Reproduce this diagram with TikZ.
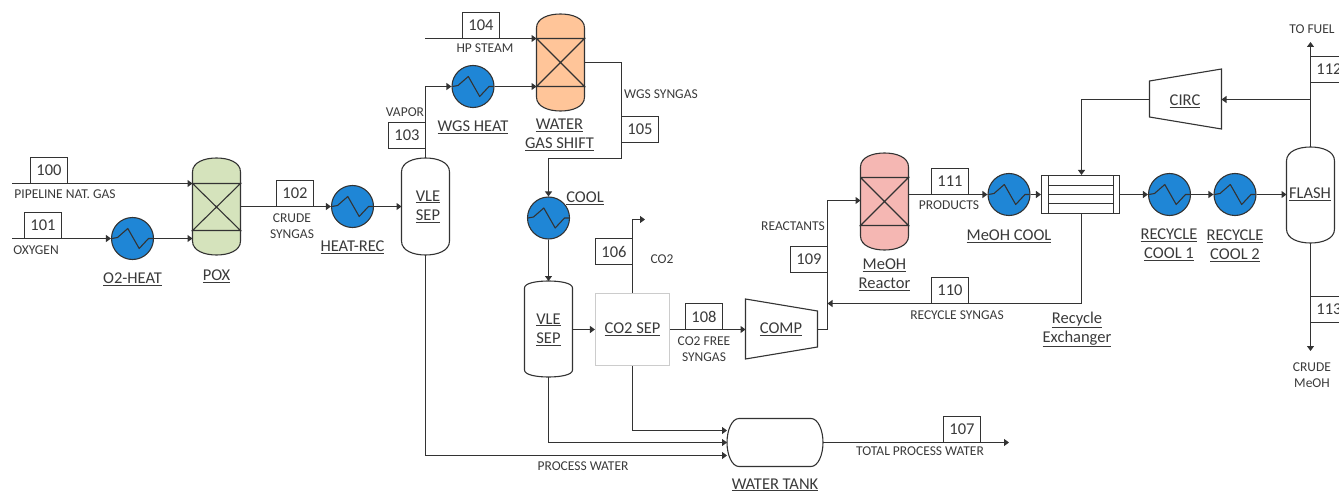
\documentclass[tikz,border=0pt]{standalone}
\usepackage{fontspec}
\setmainfont{Carlito}
\usetikzlibrary{arrows.meta,calc}
\definecolor{ln}{HTML}{333333}
\definecolor{tx}{HTML}{3A3A3A}
\definecolor{hxblue}{HTML}{1F86D6}
\definecolor{poxf}{HTML}{D5E3BC}
\definecolor{wgsf}{HTML}{FFC599}
\definecolor{meohf}{HTML}{F5B7B3}
\tikzset{
 pipe/.style={draw=ln,line width=1.1pt},
 stream/.style={pipe,-{Triangle[length=5pt,width=7pt]}},
 numbox/.style={draw=ln,line width=1.1pt,fill=white,minimum width=37pt,minimum height=26pt,inner sep=0pt,text=tx,font=\fontsize{16.5}{19}\selectfont},
 small/.style={inner sep=0pt,text=tx,align=center,font=\fontsize{13.5}{16}\selectfont},
 unit/.style={inner sep=0pt,text=tx,align=center,font=\fontsize{16.5}{19}\selectfont},
 ghost/.style={inner sep=0pt,outer sep=0pt},
 hxc/.style={circle,draw=ln,line width=1.1pt,fill=hxblue,minimum size=42pt,inner sep=0pt},
 tool/.style={draw=ln,line width=1.1pt}
}
% name, cx, top, bottom, head height, fill
\newcommand{\vessel}[6]{%
 \path[tool,fill=#6] (#2-24,#3+#5) .. controls (#2-24,#3+0.3*#5) and (#2-12,#3) .. (#2,#3)
   .. controls (#2+12,#3) and (#2+24,#3+0.3*#5) .. (#2+24,#3+#5)
   -- (#2+24,#4-#5) .. controls (#2+24,#4-0.3*#5) and (#2+12,#4) .. (#2,#4)
   .. controls (#2-12,#4) and (#2-24,#4-0.3*#5) .. (#2-24,#4-#5) -- cycle;
 \node[ghost,minimum width=48pt,minimum height=#4pt-#3pt] (#1) at (#2,{(#3+#4)/2}) {};}
% name, cx, top, bottom, fill, y1, y2
\newcommand{\reactor}[7]{%
 \vessel{#1}{#2}{#3}{#4}{14}{#5}
 \draw[tool] (#2-24,#6) -- (#2+24,#6) -- (#2-24,#7) -- (#2+24,#7) -- (#2-24,#6);}
% name, cx, cy
\newcommand{\hx}[3]{%
 \node[hxc] (#1) at (#2,#3) {};
 \draw[tool,line join=round] (#2-20.5,#3) -- (#2-15,#3-1) -- (#2-4.7,#3-10) -- (#2+6.7,#3+10) -- (#2+16,#3) -- (#2+20.5,#3);}
\begin{document}
\begin{tikzpicture}[x=1pt,y=-1pt]
\useasboundingbox (0,0) rectangle (1339,492);
\clip (0,0) rectangle (1339,492);
% equipment
\reactor{pox}{216.5}{158}{255}{poxf}{183.5}{230.5}
\reactor{wgs}{560.5}{14}{111}{wgsf}{38.5}{86.5}
\reactor{meoh}{884.5}{153}{250}{meohf}{177.5}{225.5}
\vessel{vle1}{425.5}{158}{255}{14}{white}
\vessel{vle2}{548.5}{281}{377}{7}{white}
\vessel{flash}{1310.5}{147}{243}{14}{white}
\hx{hxo}{132.5}{238.5}
\hx{hxrec}{352.5}{206.5}
\hx{hxwgs}{473}{86.5}
\hx{hxcool}{548.5}{218}
\hx{hxmeoh}{1009}{194.5}
\hx{hxr}{1169.5}{194.5}
\hx{hxs}{1235}{194.5}
\node[draw=black!20,line width=1.1pt,minimum width=74pt,minimum height=72pt,inner sep=0pt,text=tx,font=\fontsize{16.5}{19}\selectfont] (co2) at (632.5,329.5) {\underline{CO2 SEP}};
% compressors
\draw[tool] (745.5,299) -- (817.5,311) -- (817.5,347) -- (745.5,359) -- cycle;
\node[ghost,minimum width=72pt,minimum height=60pt] (comp) at (781.5,329.5) {};
\draw[tool] (1149.5,81) -- (1221.5,69) -- (1221.5,129) -- (1149.5,117) -- cycle;
\node[ghost,minimum width=72pt,minimum height=60pt] (circ) at (1185.5,99.5) {};
% water tank
\path[tool] (739,418.5) -- (811,418.5) .. controls (818,418.5) and (823,430) .. (823,442.5)
  .. controls (823,455) and (818,466.5) .. (811,466.5) -- (739,466.5)
  .. controls (732,466.5) and (727,455) .. (727,442.5) .. controls (727,430) and (732,418.5) .. (739,418.5) -- cycle;
\node[ghost,minimum width=96pt,minimum height=48pt] (tank) at (775,442.5) {};
% exchanger
\node[draw=ln,line width=1.1pt,minimum width=78pt,minimum height=38pt,inner sep=0pt] (exch) at (1080.5,194.5) {};
\draw[tool] (1048.5,175.5) -- (1048.5,213.5) (1113.5,175.5) -- (1113.5,213.5);
\draw[tool] (1048.5,185.5) -- (1113.5,185.5) (1048.5,194.5) -- (1113.5,194.5) (1048.5,203.5) -- (1113.5,203.5);
% free ends
\coordinate (s100) at (12,183.5);
\coordinate (s101) at (12,238.5);
\coordinate (s104) at (425,38.5);
\coordinate (j1) at (425.5,86.5);
\coordinate (co2end) at (645,219.5);
\coordinate (e107) at (1009,442.5);
\coordinate (fuel) at (1310.5,42);
\coordinate (crude) at (1310.5,351);
\coordinate (tee) at (1310.5,99.5);
\coordinate (mix) at (827.5,303.5);
\coordinate (rbend) at (1081.5,303.5);
\coordinate (cbend) at (1081.5,99.5);
% connectors
\draw[stream] (s100) -- (pox.west |- s100);
\draw[stream] (s101) -- (hxo.west);
\draw[stream] (hxo.east) -- (pox.west |- hxo.east);
\draw[stream] (pox.east) -- (hxrec.west);
\draw[stream] (hxrec.east) -- (vle1.west |- hxrec.east);
\draw[pipe] (vle1.north) -- (j1);
\draw[stream] (j1) -- (hxwgs.west);
\draw[stream] (hxwgs.east) -- (wgs.west |- hxwgs.east);
\draw[stream] (s104) -- (wgs.west |- s104);
\draw[stream] (wgs.east) -- (621.5,62.5) -- (621.5,158.5) -- (hxcool.north |- 0,158.5) -- (hxcool.north);
\draw[stream] (hxcool.south) -- (vle2.north);
\draw[stream] (vle2.east |- co2.west) -- (co2.west);
\draw[stream] (co2.north) -- (co2.north |- co2end) -- (co2end);
\draw[stream] (co2.east) -- (comp.west);
\draw[stream] (comp.east) -- (827.5,329.5) -- (827.5,200.5) -- (meoh.west |- 0,200.5);
\draw[stream] (rbend) -- (mix);
\draw[pipe] (exch.south -| rbend) -- (rbend);
\draw[stream] (meoh.east |- 0,194.5) -- (hxmeoh.west);
\draw[stream] (hxmeoh.east) -- (exch.west);
\draw[stream] (exch.east) -- (hxr.west);
\draw[stream] (hxr.east) -- (hxs.west);
\draw[stream] (hxs.east) -- (flash.west |- hxs.east);
\draw[stream] (flash.north) -- (fuel);
\draw[stream] (flash.south) -- (crude);
\draw[stream] (tee) -- (circ.east);
\draw[pipe] (circ.west) -- (cbend);
\draw[stream] (cbend) -- (exch.north -| cbend);
\draw[stream] (co2.south) -- (co2.south |- 0,430.5) -- (tank.west |- 0,430.5);
\draw[stream] (vle2.south) -- (vle2.south |- tank.west) -- (tank.west);
\draw[stream] (vle1.south) -- (vle1.south |- 0,455.5) -- (tank.west |- 0,455.5);
\draw[stream] (tank.east) -- (e107);
% number boxes
\node[numbox] at (49,170.5) {100};
\node[numbox] at (43,225.5) {101};
\node[numbox] at (295,193.5) {102};
\node[numbox] at (407,135.5) {103};
\node[numbox] at (481,25.5) {104};
\node[numbox] at (640,129.5) {105};
\node[numbox] at (614,251.5) {106};
\node[numbox] at (962,429.5) {107};
\node[numbox] at (704,316.5) {108};
\node[numbox] at (809,259.5) {109};
\node[numbox] at (950,290.5) {110};
\node[numbox] at (950,181.5) {111};
\node[numbox] at (1329,69.5) {112};
\node[numbox] at (1329,309.5) {113};
% stream labels
\node[small] at (65,194.5) {PIPELINE NAT. GAS};
\node[small] at (36,250) {OXYGEN};
\node[small] at (292,226) {CRUDE\\SYNGAS};
\node[small] at (405,112) {VAPOR};
\node[small] at (485,48) {HP STEAM};
\node[small] at (661,94) {WGS SYNGAS};
\node[small] at (662,259.5) {CO2};
\node[small] at (704,349) {CO2 FREE\\SYNGAS};
\node[small] at (793,226) {REACTANTS};
\node[small] at (949,205.5) {PRODUCTS};
\node[small] at (957,315) {RECYCLE SYNGAS};
\node[small] at (583,466) {PROCESS WATER};
\node[small] at (920,451) {TOTAL PROCESS WATER};
\node[small] at (1312,29) {TO FUEL};
\node[small] at (1312,375) {CRUDE\\MeOH};
% unit labels
\node[unit] at (132.5,279) {\underline{O2-HEAT}};
\node[unit] at (216.5,276) {\underline{POX}};
\node[unit] at (352.5,247) {\underline{HEAT-REC}};
\node[unit] at (428,206.5) {\underline{VLE}\\\underline{SEP}};
\node[unit] at (473,127) {\underline{WGS HEAT}};
\node[unit] at (559.5,135) {\underline{WATER}\\\underline{GAS SHIFT}};
\node[unit] at (585,198) {\underline{COOL}};
\node[unit] at (548.5,329.5) {\underline{VLE}\\\underline{SEP}};
\node[unit] at (781,329.5) {\underline{COMP}};
\node[unit] at (884.5,274.5) {\underline{MeOH}\\\underline{Reactor}};
\node[unit] at (1009,236) {\underline{MeOH COOL}};
\node[unit] at (1077,329.5) {\underline{Recycle}\\\underline{Exchanger}};
\node[unit] at (1185,101) {\underline{CIRC}};
\node[unit] at (1169,245) {\underline{RECYCLE}\\\underline{COOL 1}};
\node[unit] at (1235,246) {\underline{RECYCLE}\\\underline{COOL 2}};
\node[unit] at (1310,194) {\underline{FLASH}};
\node[unit] at (775,485) {\underline{WATER TANK}};
\end{tikzpicture}
\end{document}
